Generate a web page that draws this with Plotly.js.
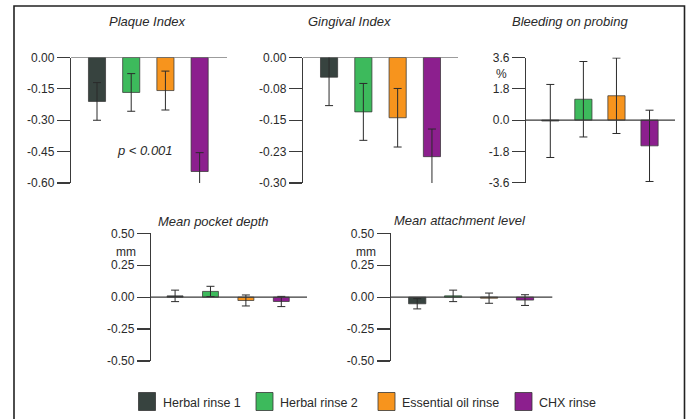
<!DOCTYPE html>
<html><head><meta charset="utf-8">
<script src="https://cdn.plot.ly/plotly-3.0.1.min.js"></script>
<style>html,body{margin:0;padding:0;background:#fff}</style>
</head><body><div id="chart" style="width:687px;height:419px"></div>
<script>
// ---- data ----
const groups = ["Herbal rinse 1", "Herbal rinse 2", "Essential oil rinse", "CHX rinse"];
const colors = ["#37433f", "#3dba5c", "#f7941d", "#8c1f8e"];

const plaqueMean = [-0.21, -0.167, -0.158, -0.545];
const plaqueErr  = [0.09, 0.09, 0.093, 0.09];
const gingivalMean = [-0.047, -0.13, -0.144, -0.237];
const gingivalErr  = [0.068, 0.068, 0.07, 0.066];
const bleedingMean = [-0.05, 1.2, 1.4, -1.48];
const bleedingErr  = [2.1, 2.17, 2.17, 2.05];
const pocketMean = [0.01, 0.045, -0.026, -0.034];
const pocketErr  = [0.045, 0.04, 0.043, 0.04];
const attachMean = [-0.052, 0.01, -0.008, -0.023];
const attachErr  = [0.04, 0.045, 0.04, 0.042];

const plaqueTicks = [0, -0.15, -0.30, -0.45, -0.60];
const plaqueTickText = ["0.00", "-0.15", "-0.30", "-0.45", "-0.60"];
const gingivalTicks = [0, -0.075, -0.15, -0.225, -0.30];
const gingivalTickText = ["0.00", "-0.08", "-0.15", "-0.23", "-0.30"];
const bleedingTicks = [3.6, 1.8, 0, -1.8, -3.6];
const bleedingTickText = ["3.6", "1.8", "0.0", "-1.8", "-3.6"];
const mmTicks = [0.5, 0.25, 0, -0.25, -0.5];
const mmTickText = ["0.50", "0.25", "0.00", "-0.25", "-0.50"];

const panelTitles = ["Plaque Index", "Gingival Index", "Bleeding on probing", "Mean pocket depth", "Mean attachment level"];
const unitLabels = ["", "", "%", "mm", "mm"];
const pText = "p < 0.001";

// ---- layout geometry (pixels) ----
const W = 687, H = 419;
const FONT = "Liberation Sans, Arial, sans-serif";
const px = v => v / W;
const py = v => 1 - v / H;

const panels = [
  {mean: plaqueMean, err: plaqueErr, ticks: plaqueTicks, text: plaqueTickText, xl: 71, xr: 227, yt: 57.5, yb: 183, xr0: -0.76, xr1: 3.8, bw: 0.5, titleX: 147, titleY: 21, unitX: 0, unitY: 0},
  {mean: gingivalMean, err: gingivalErr, ticks: gingivalTicks, text: gingivalTickText, xl: 303, xr: 458, yt: 57.5, yb: 183, xr0: -0.76, xr1: 3.76, bw: 0.5, titleX: 349, titleY: 21, unitX: 0, unitY: 0},
  {mean: bleedingMean, err: bleedingErr, ticks: bleedingTicks, text: bleedingTickText, xl: 526, xr: 675, yt: 57.5, yb: 182.7, xr0: -0.735, xr1: 3.77, bw: 0.52, titleX: 570, titleY: 21, unitX: 501, unitY: 74.5},
  {mean: pocketMean, err: pocketErr, ticks: mmTicks, text: mmTickText, xl: 151, xr: 307, yt: 233.3, yb: 361, xr0: -0.68, xr1: 3.726, bw: 0.45, titleX: 213, titleY: 221.5, unitX: 125.5, unitY: 252},
  {mean: attachMean, err: attachErr, ticks: mmTicks, text: mmTickText, xl: 390.7, xr: 552.3, yt: 233.3, yb: 361, xr0: -0.738, xr1: 3.76, bw: 0.48, titleX: 460, titleY: 221, unitX: 365.5, unitY: 252}
];

const traces = [];
const layout = {
  width: W, height: H, autosize: false,
  margin: {l: 0, r: 0, t: 0, b: 0, pad: 0},
  paper_bgcolor: "#ffffff", plot_bgcolor: "rgba(0,0,0,0)",
  showlegend: false,
  font: {family: FONT, size: 12, color: "#2a2a2a"},
  shapes: [], annotations: []
};

panels.forEach((p, i) => {
  const n = i === 0 ? "" : String(i + 1);
  const xa = "x" + n, ya = "y" + n;
  traces.push({
    type: "bar", x: groups, y: p.mean, xaxis: xa, yaxis: ya,
    width: p.bw, cliponaxis: false, hoverinfo: "skip",
    marker: {color: colors, line: {color: "rgba(55,55,55,0.75)", width: 1}},
    error_y: {type: "data", array: p.err, visible: true, color: "#2b2b2b", thickness: 1, width: 4}
  });
  const ymin = Math.min(...p.ticks), ymax = Math.max(...p.ticks);
  layout["xaxis" + n] = {
    domain: [px(p.xl), px(p.xr)], range: [p.xr0, p.xr1], anchor: ya,
    visible: false, type: "category", fixedrange: true
  };
  layout["yaxis" + n] = {
    domain: [py(p.yb), py(p.yt)], range: [ymin, ymax], anchor: xa,
    showgrid: false, zeroline: false, showline: true, linecolor: "#3a3a3a", linewidth: 1.2,
    ticks: "outside", ticklen: 13, tickwidth: 1.2, tickcolor: "#3a3a3a",
    tickvals: p.ticks, ticktext: p.text, tickfont: {family: FONT, size: 12, color: "#2a2a2a"},
    fixedrange: true
  };
  layout.shapes.push({type: "line", xref: xa + " domain", yref: ya, x0: 0, x1: 1, y0: 0, y1: 0,
    line: {color: "#3a3a3a", width: 1.2}, layer: "above"});
  layout.annotations.push({text: panelTitles[i], xref: "paper", yref: "paper", x: px(p.titleX), y: py(p.titleY),
    xanchor: "center", yanchor: "middle", showarrow: false,
    font: {family: FONT, size: 13, color: "#2a2a2a", style: "italic"}});
  if (unitLabels[i]) {
    layout.annotations.push({text: unitLabels[i], xref: "paper", yref: "paper", x: px(p.unitX), y: py(p.unitY),
      xanchor: "center", yanchor: "middle", showarrow: false,
      font: {family: FONT, size: 12, color: "#2a2a2a"}});
  }
});

// p-value note
layout.annotations.push({text: pText, xref: "paper", yref: "paper", x: px(145), y: py(150),
  xanchor: "center", yanchor: "middle", showarrow: false,
  font: {family: FONT, size: 13, color: "#2a2a2a", style: "italic"}});

// outer frame
layout.shapes.push({type: "rect", xref: "paper", yref: "paper", x0: px(14), x1: px(684.5), y0: py(430), y1: py(6),
  line: {color: "#222", width: 1.6}, fillcolor: "rgba(0,0,0,0)", layer: "above"});

// legend (swatches + real text)
const legSwatchX = [138.5, 256, 378, 515];
groups.forEach((g, i) => {
  layout.shapes.push({type: "rect", xref: "paper", yref: "paper",
    x0: px(legSwatchX[i]), x1: px(legSwatchX[i] + 17), y0: py(410.5), y1: py(392.5),
    fillcolor: colors[i], line: {color: "rgba(55,55,55,0.8)", width: 1}, layer: "above"});
  layout.annotations.push({text: g, xref: "paper", yref: "paper", x: px(legSwatchX[i] + 22), y: py(403),
    xanchor: "left", yanchor: "middle", showarrow: false,
    font: {family: FONT, size: 12.5, color: "#2a2a2a"}});
});

Plotly.newPlot("chart", traces, layout, {displayModeBar: false, staticPlot: true});
</script>
</body></html>
